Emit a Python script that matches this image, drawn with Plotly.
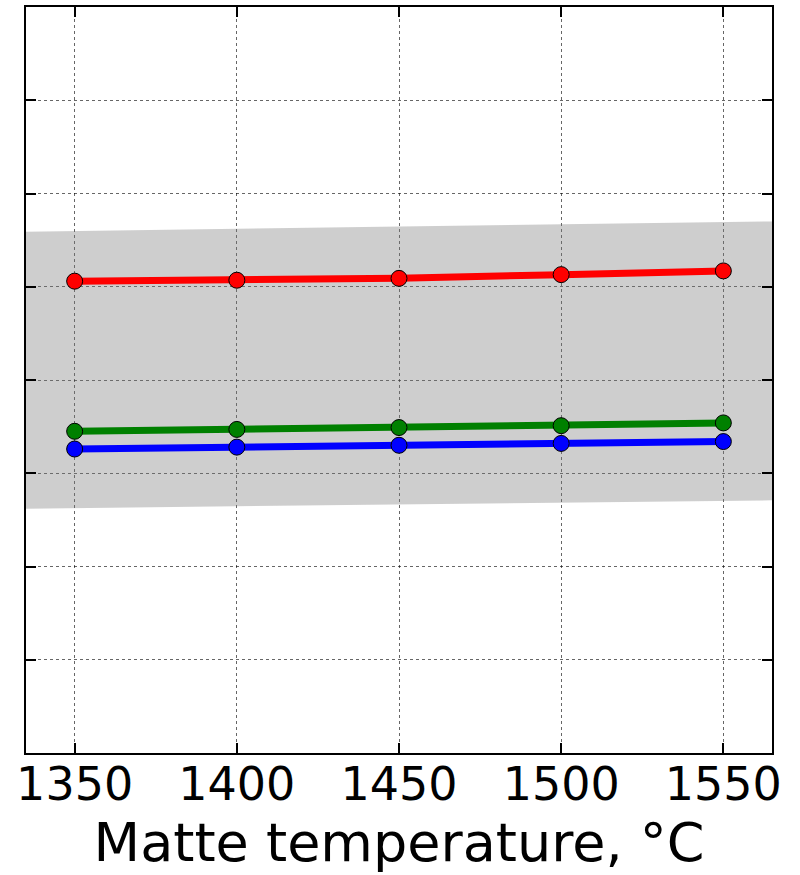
import plotly.graph_objects as go

temperature = [1350, 1400, 1450, 1500, 1550]
red_series = [5.06, 5.07, 5.09, 5.13, 5.17]
green_series = [3.45, 3.47, 3.49, 3.51, 3.54]
blue_series = [3.26, 3.28, 3.30, 3.32, 3.34]

band_x = [1335, 1565]
band_lower = [2.62, 2.71]
band_upper = [5.59, 5.70]

x_ticks = [1350, 1400, 1450, 1500, 1550]
y_ticks = [0, 1, 2, 3, 4, 5, 6, 7, 8]

fig = go.Figure()
fig.add_trace(go.Scatter(x=band_x, y=band_lower, mode="lines",
                         line=dict(width=0), hoverinfo="skip", showlegend=False))
fig.add_trace(go.Scatter(x=band_x, y=band_upper, mode="lines", fill="tonexty",
                         fillcolor="rgba(120,120,120,0.36)",
                         line=dict(width=0), hoverinfo="skip", showlegend=False))

for ys, col in [(red_series, "#ff0000"), (green_series, "#008000"), (blue_series, "#0000ff")]:
    fig.add_trace(go.Scatter(
        x=temperature, y=ys, mode="lines+markers",
        line=dict(color=col, width=7),
        marker=dict(size=16, color=col, line=dict(color="black", width=1)),
        showlegend=False))

axis_common = dict(
    showline=True, linecolor="black", linewidth=2, mirror="ticks",
    ticks="inside", ticklen=10, tickwidth=1.5, tickcolor="black",
    showgrid=True, gridcolor="rgba(0,0,0,0.6)", gridwidth=1, griddash="dot",
    zeroline=False,
)

fig.update_layout(
    width=800, height=875,
    margin=dict(l=26, r=28, t=5, b=122),
    plot_bgcolor="white", paper_bgcolor="white",
    font=dict(family="DejaVu Sans", color="black"),
    xaxis=dict(range=[1335, 1565], tickvals=x_ticks,
               ticktext=[str(v) for v in x_ticks],
               tickfont=dict(size=46), ticklabelstandoff=-10,
               title=dict(text="Matte temperature, °C", font=dict(size=54), standoff=2),
               **axis_common),
    yaxis=dict(range=[0, 8], tickvals=y_ticks, showticklabels=False, **axis_common),
)

fig.write_html("out.html")
